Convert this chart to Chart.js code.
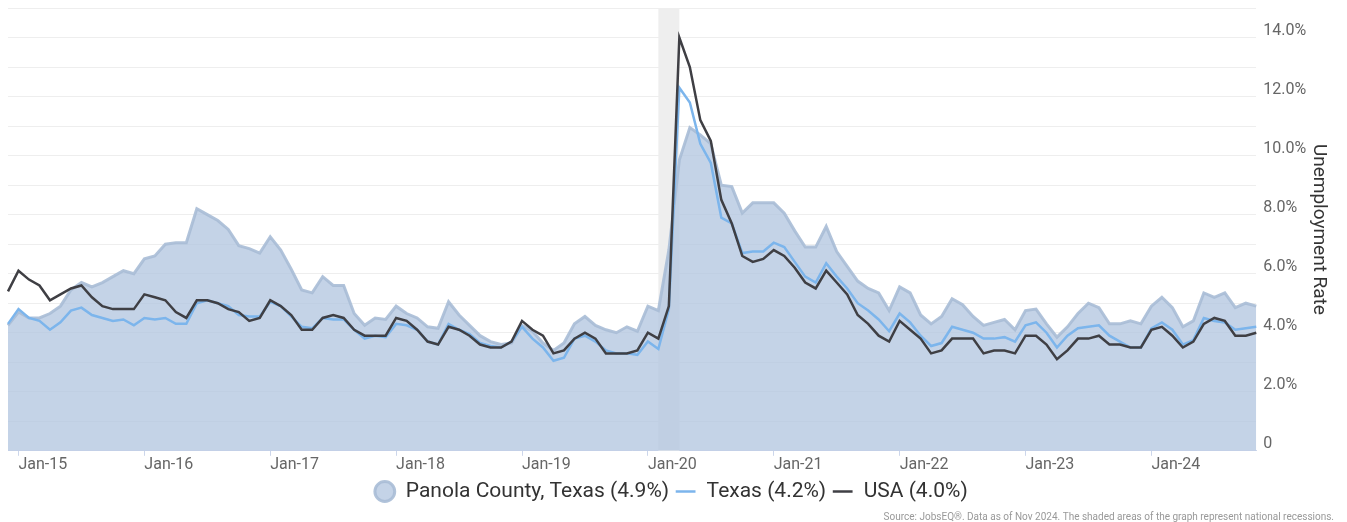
<!DOCTYPE html>
<html>
<head>
<meta charset="utf-8">
<script src="https://cdn.jsdelivr.net/npm/chart.js@4.4.1/dist/chart.umd.min.js"></script>
<style>
    html, body { margin: 0; padding: 0; background: #fff; }
    #wrap { width: 1347px; height: 522px; }
</style>
</head>
<body>
<div id="wrap"><canvas id="desemprego" width="1347" height="522"></canvas></div>
<script>
// monthly series, Dec-14 .. Nov-24
const monthNames = ['Jan', 'Feb', 'Mar', 'Apr', 'May', 'Jun', 'Jul', 'Aug', 'Sep', 'Oct', 'Nov', 'Dec'];
const firstYear = 2014;
const firstMonth = 11; // Dec
const monthCount = 120;

const panola = [
    4.25,
    4.7, 4.5, 4.5, 4.65, 4.9, 5.45, 5.7, 5.55, 5.7, 5.9, 6.1, 6.0,
    6.5, 6.6, 7.0, 7.05, 7.05, 8.2, 8.0, 7.8, 7.5, 6.95, 6.85, 6.7,
    7.25, 6.8, 6.15, 5.45, 5.35, 5.9, 5.6, 5.6, 4.65, 4.25, 4.5, 4.45,
    4.9, 4.65, 4.5, 4.2, 4.15, 5.05, 4.6, 4.25, 3.9, 3.7, 3.6, 3.65,
    4.25, 4.05, 3.65, 3.4, 3.65, 4.3, 4.55, 4.25, 4.1, 4.0, 4.2, 4.05,
    4.9, 4.75, 6.8, 9.85, 10.95, 10.7, 10.4, 9.0, 8.95, 8.05, 8.4, 8.4,
    8.4, 8.05, 7.45, 6.9, 6.9, 7.6, 6.75, 6.25, 5.75, 5.5, 5.35, 4.75,
    5.55, 5.35, 4.6, 4.3, 4.55, 5.15, 4.95, 4.55, 4.25, 4.35, 4.45, 4.1,
    4.75, 4.8, 4.3, 3.85, 4.2, 4.65, 5.0, 4.85, 4.3, 4.3, 4.4, 4.3,
    4.9, 5.2, 4.85, 4.2, 4.4, 5.35, 5.2, 5.35, 4.85, 5.0, 4.9
];

const texas = [
    4.3,
    4.8, 4.5, 4.4, 4.1, 4.35, 4.75, 4.85, 4.6, 4.5, 4.4, 4.45, 4.25,
    4.5, 4.45, 4.5, 4.3, 4.3, 5.0, 5.1, 5.0, 4.9, 4.6, 4.55, 4.55,
    5.05, 4.9, 4.55, 4.2, 4.15, 4.5, 4.45, 4.45, 4.1, 3.8, 3.9, 3.85,
    4.3, 4.25, 4.1, 3.7, 3.6, 4.3, 4.1, 3.95, 3.65, 3.55, 3.5, 3.7,
    4.2, 3.8, 3.5, 3.05, 3.15, 3.8, 3.9, 3.7, 3.4, 3.3, 3.3, 3.25,
    3.7, 3.45, 4.8, 12.3, 11.8, 10.4, 9.75, 7.9, 7.7, 6.7, 6.75, 6.75,
    7.05, 6.9, 6.4, 5.9, 5.7, 6.35, 5.9, 5.5, 5.0, 4.75, 4.45, 4.05,
    4.65, 4.35, 3.9, 3.55, 3.65, 4.2, 4.1, 4.0, 3.8, 3.8, 3.85, 3.7,
    4.25, 4.35, 4.0, 3.5, 3.9, 4.15, 4.2, 4.25, 3.9, 3.7, 3.5, 3.5,
    4.15, 4.35, 4.1, 3.6, 3.75, 4.5, 4.4, 4.35, 4.1, 4.15, 4.2
];

const usa = [
    5.4,
    6.1, 5.8, 5.6, 5.1, 5.3, 5.5, 5.6, 5.2, 4.9, 4.8, 4.8, 4.8,
    5.3, 5.2, 5.1, 4.7, 4.5, 5.1, 5.1, 5.0, 4.8, 4.7, 4.4, 4.5,
    5.1, 4.9, 4.6, 4.1, 4.1, 4.5, 4.6, 4.5, 4.1, 3.9, 3.9, 3.9,
    4.5, 4.4, 4.1, 3.7, 3.6, 4.2, 4.1, 3.9, 3.6, 3.5, 3.5, 3.7,
    4.4, 4.1, 3.9, 3.3, 3.4, 3.8, 4.0, 3.8, 3.3, 3.3, 3.3, 3.4,
    4.0, 3.8, 4.9, 14.0, 13.0, 11.2, 10.5, 8.5, 7.7, 6.6, 6.4, 6.5,
    6.8, 6.6, 6.2, 5.7, 5.5, 6.1, 5.7, 5.3, 4.6, 4.3, 3.9, 3.7,
    4.4, 4.1, 3.8, 3.3, 3.4, 3.8, 3.8, 3.8, 3.3, 3.4, 3.4, 3.3,
    3.9, 3.9, 3.6, 3.1, 3.4, 3.8, 3.8, 3.9, 3.6, 3.6, 3.5, 3.5,
    4.1, 4.2, 3.9, 3.5, 3.7, 4.3, 4.5, 4.4, 3.9, 3.9, 4.0
];

const seriesNames = ['Panola County, Texas (4.9%)', 'Texas (4.2%)', 'USA (4.0%)'];
const recessions = [['Feb-20', 'Apr-20']];
const yTicks = [0, 2, 4, 6, 8, 10, 12, 14];
const sourceNote = 'Source: JobsEQ®. Data as of Nov 2024. The shaded areas of the graph represent national recessions.';

const labels = [];
for (let i = 0; i < monthCount; i++) {
    const m = (firstMonth + i) % 12;
    const y = firstYear + Math.floor((firstMonth + i) / 12);
    labels.push(monthNames[m] + '-' + String(y).slice(2));
}

const recessionBands = {
    id: 'recessionBands',
    beforeDatasetsDraw(chart) {
        const { ctx, chartArea, scales: { x } } = chart;
        ctx.save();
        ctx.fillStyle = '#eeeeee';
        recessions.forEach(([from, to]) => {
            const x1 = x.getPixelForValue(labels.indexOf(from));
            const x2 = x.getPixelForValue(labels.indexOf(to));
            ctx.fillRect(x1, chartArea.top, x2 - x1, chartArea.bottom - chartArea.top);
        });
        ctx.restore();
    }
};

Chart.defaults.font.family = 'Roboto';

new Chart(document.getElementById('desemprego'), {
    type: 'line',
    data: {
        labels: labels,
        datasets: [{
            label: seriesNames[0],
            data: panola,
            fill: 'origin',
            backgroundColor: 'rgba(176, 196, 222, 0.74)',
            borderColor: 'rgba(168, 189, 214, 0.9)',
            borderWidth: 3,
            pointRadius: 0,
            pointStyle: 'circle',
            tension: 0,
            order: 3
        }, {
            label: seriesNames[1],
            data: texas,
            fill: false,
            borderColor: '#7cb5ec',
            backgroundColor: '#7cb5ec',
            borderWidth: 2.5,
            pointRadius: 0,
            pointStyle: 'line',
            tension: 0,
            order: 2
        }, {
            label: seriesNames[2],
            data: usa,
            fill: false,
            borderColor: '#3f3f44',
            backgroundColor: '#3f3f44',
            borderWidth: 2.5,
            pointRadius: 0,
            pointStyle: 'line',
            tension: 0,
            order: 1
        }]
    },
    options: {
        responsive: false,
        animation: false,
        layout: {
            padding: { top: 0, left: 8, right: 13, bottom: 0 }
        },
        scales: {
            x: {
                offset: false,
                border: { color: '#ccd6eb', width: 1 },
                grid: {
                    drawOnChartArea: false,
                    tickLength: 5,
                    color: ctx => (labels[ctx.index] || '').startsWith('Jan') ? '#ccd6eb' : 'rgba(0,0,0,0)'
                },
                ticks: {
                    autoSkip: false,
                    maxRotation: 0,
                    align: 'start',
                    padding: 0,
                    color: '#666666',
                    font: { size: 16 },
                    callback: (v, i) => labels[i].startsWith('Jan') ? labels[i] : ''
                }
            },
            y: {
                position: 'right',
                min: 0,
                max: 15,
                border: { display: false },
                grid: { color: '#eeeeee', drawTicks: true, tickLength: 7, tickColor: 'rgba(0,0,0,0)' },
                ticks: {
                    stepSize: 1,
                    padding: 0,
                    labelOffset: -7,
                    color: '#666666',
                    font: { size: 16, lineHeight: 1 },
                    callback: v => yTicks.includes(v) ? (v === 0 ? '0' : v.toFixed(1) + '%') : ''
                },
                title: {
                    display: true,
                    text: 'Unemployment Rate',
                    color: '#333333',
                    font: { size: 19 },
                    padding: { top: 4, bottom: 1 }
                }
            }
        },
        plugins: {
            legend: {
                position: 'bottom',
                labels: {
                    usePointStyle: true,
                    boxHeight: 14,
                    padding: 6,
                    color: '#333333',
                    font: { size: 21 },
                    sort: (a, b) => a.datasetIndex - b.datasetIndex
                }
            },
            subtitle: {
                display: true,
                position: 'bottom',
                align: 'end',
                text: sourceNote,
                color: '#999999',
                font: { size: 10, lineHeight: 1 },
                padding: { top: 0, bottom: 0 }
            },
            tooltip: { enabled: false }
        }
    },
    plugins: [recessionBands]
});
</script>
</body>
</html>
